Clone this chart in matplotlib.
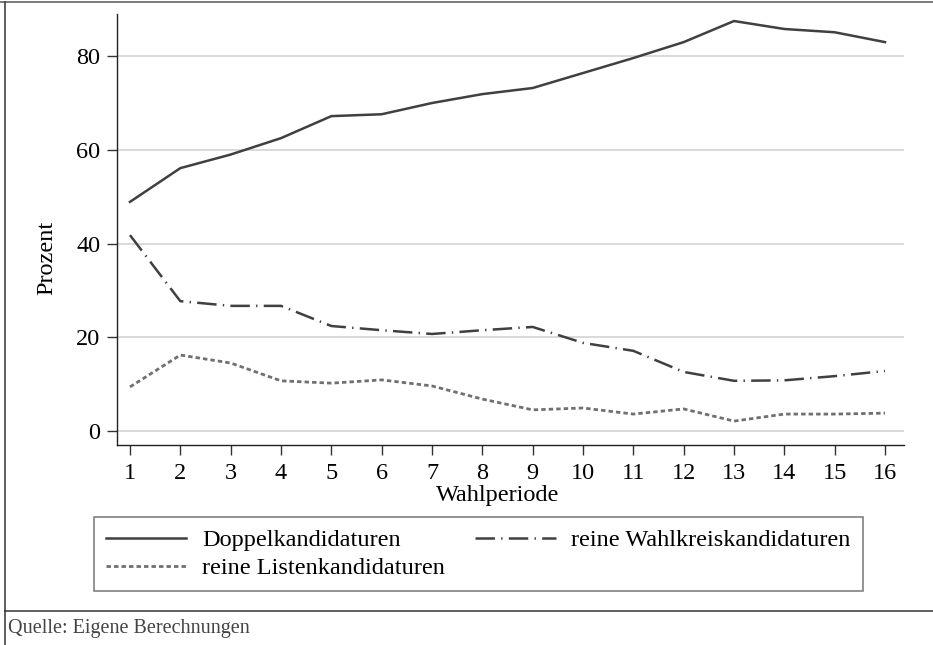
import numpy as np
import matplotlib
matplotlib.use("Agg")
import matplotlib.pyplot as plt
from matplotlib.lines import Line2D

# Werte (Prozent je Wahlperiode)
perioden = np.arange(1, 17)
doppel = [48.9, 56.1, 59.0, 62.5, 67.2, 67.6, 70.0, 71.9, 73.2, 76.4, 79.6, 83.0, 87.5, 85.8, 85.1, 83.0]
wahlkreis = [41.8, 27.7, 26.7, 26.7, 22.4, 21.5, 20.7, 21.5, 22.2, 18.8, 17.1, 12.6, 10.7, 10.8, 11.7, 12.8]
listen = [9.4, 16.2, 14.5, 10.7, 10.2, 10.9, 9.6, 6.8, 4.5, 4.9, 3.6, 4.7, 2.1, 3.6, 3.6, 3.8]
y_ticks = [0, 20, 40, 60, 80]

plt.rcParams['font.family'] = ['Liberation Serif', 'DejaVu Serif']
plt.rcParams['lines.scale_dashes'] = False

W, H = 933, 645
fs = 17.5
fig = plt.figure(figsize=(W / 100, H / 100), dpi=100)
ax = fig.add_axes([117 / W, 1 - 445 / H, (904 - 117) / W, (445 - 14) / H])

l_doppel, = ax.plot(perioden, doppel, color='#404040', lw=1.8)
l_wk, = ax.plot(perioden, wahlkreis, color='#404040', lw=1.8,
                linestyle=(0, (14, 4.5, 1, 4.5)))
l_list, = ax.plot(perioden, listen, color='#707070', lw=2.0,
                  linestyle=(0, (3.2, 2.2)))

ax.set_xlim(0.742, 16.377)
ax.set_ylim(-3.0, 89.0)
ax.set_xticks(perioden)
ax.set_yticks(y_ticks)
for v in y_ticks:
    ax.axhline(v, color='#d9d9d9', lw=1.4, zorder=0)

for s in ['top', 'right']:
    ax.spines[s].set_visible(False)
for s in ['left', 'bottom']:
    ax.spines[s].set_linewidth(1.0)
    ax.spines[s].set_color('#222222')
ax.tick_params(axis='both', direction='out', length=7, width=1.0, color='#333333',
               labelsize=fs)
ax.tick_params(axis='x', pad=6)
ax.tick_params(axis='y', pad=5)

fig.text(47 / W, 1 - 258 / H, 'Prozent', rotation=90, ha='center', va='center', fontsize=fs)
fig.text(498 / W, 1 - 495 / H, 'Wahlperiode', ha='center', va='center', fontsize=fs)

leg = fig.legend([l_doppel, l_list, l_wk],
                 ['Doppelkandidaturen', 'reine Listenkandidaturen', 'reine Wahlkreiskandidaturen'],
                 ncol=2, loc='upper left', mode='expand',
                 bbox_to_anchor=(94 / W, 1 - 588 / H, (863 - 94) / W, (588 - 517) / H),
                 borderaxespad=0, fontsize=fs, frameon=True, fancybox=False,
                 edgecolor='#555555', handlelength=3.3, handletextpad=0.65,
                 labelspacing=0.25, borderpad=0.5, columnspacing=2.6)
leg.get_frame().set_linewidth(1.1)

# Rahmen und Quellenangabe
fig.add_artist(Line2D([0, 1], [1 - 1.5 / H, 1 - 1.5 / H], color='#666666', lw=1.2))
fig.add_artist(Line2D([5 / W, 5 / W], [0, 1 - 1.5 / H], color='#333333', lw=1.1))
fig.add_artist(Line2D([5 / W, 1], [1 - 611 / H, 1 - 611 / H], color='#333333', lw=1.1))
fig.text(8 / W, 1 - 629 / H, 'Quelle: Eigene Berechnungen', ha='left', va='center',
         fontsize=14.5, color='#444444')

fig.savefig('out.png', dpi=100)
